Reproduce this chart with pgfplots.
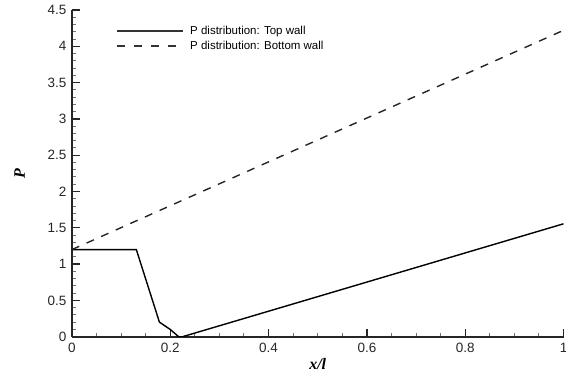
\documentclass[border=0pt]{standalone}
\usepackage{pgfplots}
\pgfplotsset{compat=1.18}
\usepackage{fontspec}
\setmainfont{Liberation Sans}
\newfontfamily\serifbi{Liberation Serif}
\begin{document}
\begin{tikzpicture}
\path[use as bounding box] (-72pt,-42pt) rectangle (494.5pt,337pt);
\begin{axis}[
  at={(0pt,0pt)}, anchor=origin,
  scale only axis, width=492pt, height=327pt,
  xmin=0, xmax=1, ymin=0, ymax=4.5,
  axis x line*=bottom, axis y line*=left,
  axis line style={-, line width=1.8pt, black!85},
  xtick={0,0.2,0.4,0.6,0.8,1}, ytick={0,0.5,...,4.5},
  xticklabels={0,0.2,0.4,0.6,0.8,1},
  yticklabels={0,0.5,1,1.5,2,2.5,3,3.5,4,4.5},
  minor x tick num=3, minor y tick num=4,
  tick align=inside,
  major tick length=8pt, minor tick length=4pt,
  every tick/.style={black!85, line width=1.3pt},
  minor tick style={black!55, line width=1pt},
  ticklabel style={font=\fontsize{13.5}{13.5}\selectfont, text=black!85},
  xticklabel style={yshift=-3pt},
  yticklabel style={xshift=-2pt},
  /pgf/number format/assume math mode=true,
  xlabel={\serifbi\bfseries\itshape x/l},
  ylabel={\serifbi\bfseries\itshape P},
  label style={font=\fontsize{16}{16}\selectfont},
  xlabel style={yshift=1pt},
  ylabel style={yshift=16pt},
  legend style={draw=none, fill=none, at={(44pt,312pt)}, anchor=north west,
    font=\fontsize{11.5}{11.5}\selectfont, row sep=3pt, inner sep=0pt,
    nodes={inner sep=1pt}},
  legend cell align=left,
  legend image code/.code={\draw[#1] (0pt,0pt) -- (66pt,0pt);},
]
\addplot[black, line width=1.4pt, forget plot] coordinates {
 (0,1.2) (0.131,1.2) (0.178,0.2) (0.2,0.1) (0.217,0.0) (0.225,0.0) (1,1.555)
};
\addplot[black!85, line width=1.4pt, dash pattern=on 8pt off 8pt, forget plot] coordinates {
 (0,1.2) (1,4.22)
};
\addlegendimage{black!80, line width=1.2pt}
\addlegendentry{\hspace{6pt}P distribution: Top wall}
\addlegendimage{black!80, line width=1.2pt, dash pattern=on 8pt off 9pt}
\addlegendentry{\hspace{6pt}P distribution: Bottom wall}
\end{axis}
\end{tikzpicture}
\end{document}
